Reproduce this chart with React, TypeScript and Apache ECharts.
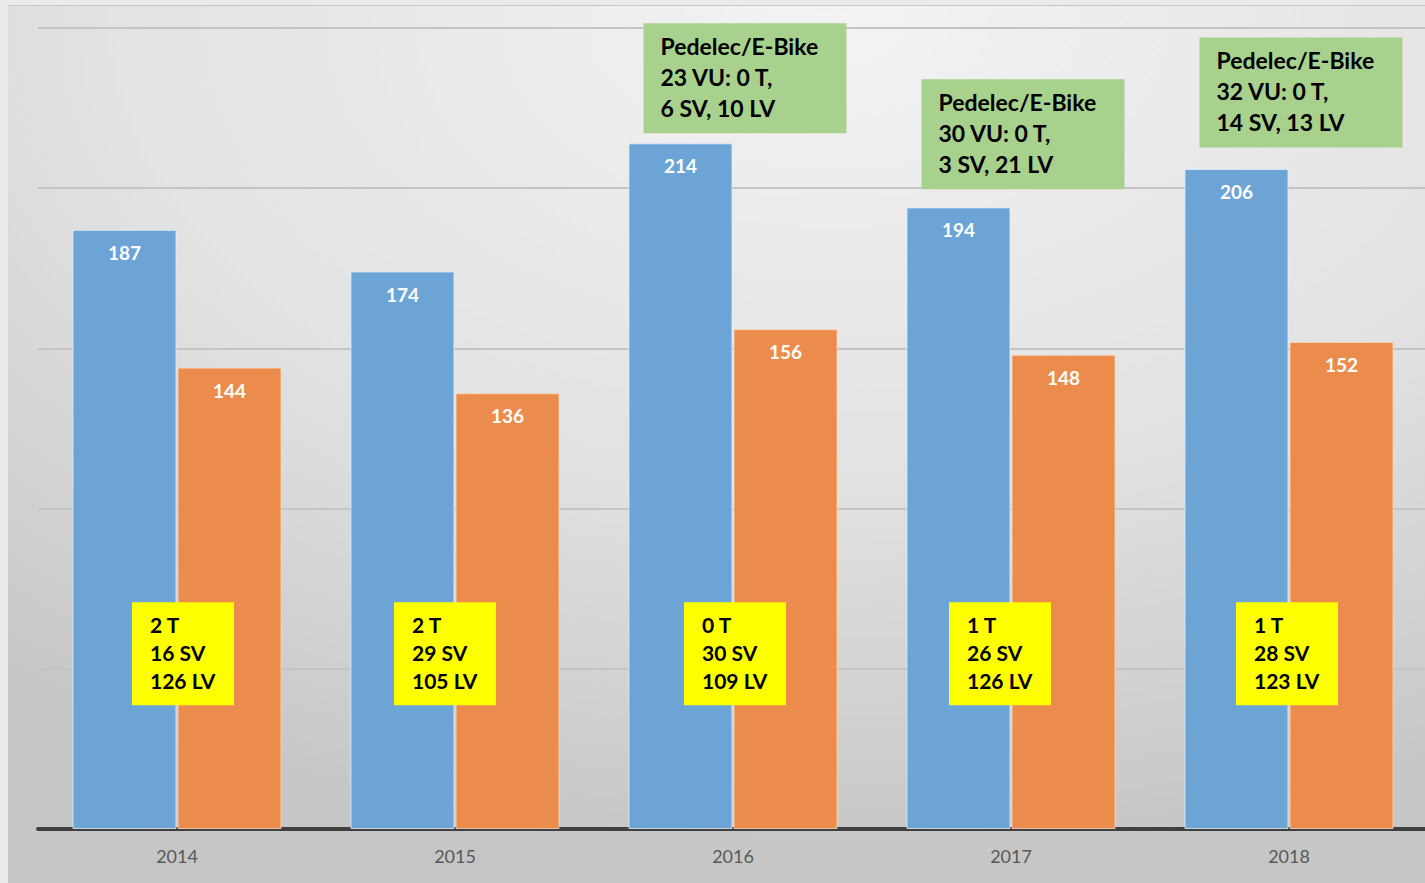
import React, { useEffect, useRef } from "react";
import * as echarts from "echarts";

const years = ["2014", "2015", "2016", "2017", "2018"];
const seriesA = [187, 174, 214, 194, 206];
const seriesB = [144, 136, 156, 148, 152];
const yMin = 0;
const yMax = 250;
const yInterval = 50;

// yellow annotation boxes: category, lines
const yellowCats = ["2014", "2015", "2016", "2017", "2018"];
const yellowTexts = [
  ["2 T", "16 SV", "126 LV"],
  ["2 T", "29 SV", "105 LV"],
  ["0 T", "30 SV", "109 LV"],
  ["1 T", "26 SV", "126 LV"],
  ["1 T", "28 SV", "123 LV"],
];
const yellowOffsets = [6, -10, 2, -11, -2];
const yellowTopValue = 70.8;

// green annotation boxes
const greenCats = ["2016", "2017", "2018"];
const greenTexts = [
  ["Pedelec/E-Bike", "23 VU: 0 T,", "6 SV, 10 LV"],
  ["Pedelec/E-Bike", "30 VU: 0 T,", "3 SV, 21 LV"],
  ["Pedelec/E-Bike", "32 VU: 0 T,", "14 SV, 13 LV"],
];
const greenTopValues = [251.5, 234, 247];
const greenOffset = 12;

const FONT = "Lato, 'Open Sans', sans-serif";

export default function App() {
  const ref = useRef<HTMLDivElement>(null);
  useEffect(() => {
    const chart = echarts.init(ref.current!, undefined, { renderer: "svg" });
    chart.setOption({
      animation: false,
      backgroundColor: {
        type: "radial",
        x: 0.58,
        y: 0.02,
        r: 0.95,
        colorStops: [
          { offset: 0, color: "#f3f3f3" },
          { offset: 0.55, color: "#e2e2e2" },
          { offset: 1, color: "#c6c6c6" },
        ],
      },
      grid: { left: 30, right: 5, top: 22, bottom: 54, containLabel: false },
      xAxis: {
        type: "category",
        data: years,
        axisLine: { lineStyle: { color: "#404040", width: 4 } },
        axisTick: { show: false },
        axisLabel: { color: "#595959", fontSize: 18, fontFamily: FONT, margin: 18 },
      },
      yAxis: {
        type: "value",
        min: yMin,
        max: yMax,
        interval: yInterval,
        axisLabel: { show: false },
        axisLine: { show: false },
        axisTick: { show: false },
        splitLine: { lineStyle: { color: "#c4c4c4", width: 2 } },
      },
      series: [
        {
          type: "bar",
          data: seriesA,
          barWidth: 104,
          barGap: "1%",
          itemStyle: { color: "#6ca4d6", borderColor: "rgba(225,238,250,0.8)", borderWidth: 1 },
          label: {
            show: true,
            position: "insideTop",
            distance: 13,
            color: "#ffffff",
            fontWeight: "bold",
            fontSize: 19,
            fontFamily: FONT,
          },
        },
        {
          type: "bar",
          data: seriesB,
          barWidth: 104,
          itemStyle: { color: "#eb8c4c", borderColor: "rgba(250,215,190,0.8)", borderWidth: 1 },
          label: {
            show: true,
            position: "insideTop",
            distance: 13,
            color: "#ffffff",
            fontWeight: "bold",
            fontSize: 19,
            fontFamily: FONT,
          },
        },
      ],
    });

    const graphics: any[] = [];
    yellowCats.forEach((c, i) => {
      const cx = chart.convertToPixel({ xAxisIndex: 0 }, c) as number;
      const top = chart.convertToPixel({ yAxisIndex: 0 }, yellowTopValue) as number;
      const w = 102;
      const h = 103;
      const x = cx + yellowOffsets[i] - w / 2;
      graphics.push({
        type: "group",
        x,
        y: top,
        z: 50,
        children: [
          { type: "rect", z: 50, shape: { x: 0, y: 0, width: w, height: h }, style: { fill: "#ffff00" } },
          {
            type: "text",
            z: 51,
            x: 18,
            y: 8,
            style: {
              text: yellowTexts[i].join("\n"),
              fill: "#000000",
              font: `bold 21px ${FONT}`,
              lineHeight: 28,
            },
          },
        ],
      });
    });
    greenCats.forEach((c, i) => {
      const cx = chart.convertToPixel({ xAxisIndex: 0 }, c) as number;
      const top = chart.convertToPixel({ yAxisIndex: 0 }, greenTopValues[i]) as number;
      const w = 203;
      const h = 110;
      const x = cx + greenOffset - w / 2;
      graphics.push({
        type: "group",
        x,
        y: top,
        z: 50,
        children: [
          { type: "rect", z: 50, shape: { x: 0, y: 0, width: w, height: h }, style: { fill: "#a9d18e" } },
          {
            type: "text",
            z: 51,
            x: 17,
            y: 7,
            style: {
              text: greenTexts[i].join("\n"),
              fill: "#000000",
              font: `bold 23px ${FONT}`,
              lineHeight: 31,
            },
          },
        ],
      });
    });
    chart.setOption({ graphic: graphics });
    return () => chart.dispose();
  }, []);

  return (
    <div
      style={{
        position: "absolute",
        left: 0,
        top: 0,
        width: 1425,
        height: 883,
        overflow: "hidden",
        background: "#ebe9e9",
      }}
    >
      <div
        style={{
          position: "absolute",
          left: 8,
          top: 5,
          width: 1425,
          height: 878,
          borderTop: "1px solid #c8c8c8",
        }}
      >
        <div ref={ref} style={{ width: 1425, height: 877 }} />
      </div>
    </div>
  );
}
